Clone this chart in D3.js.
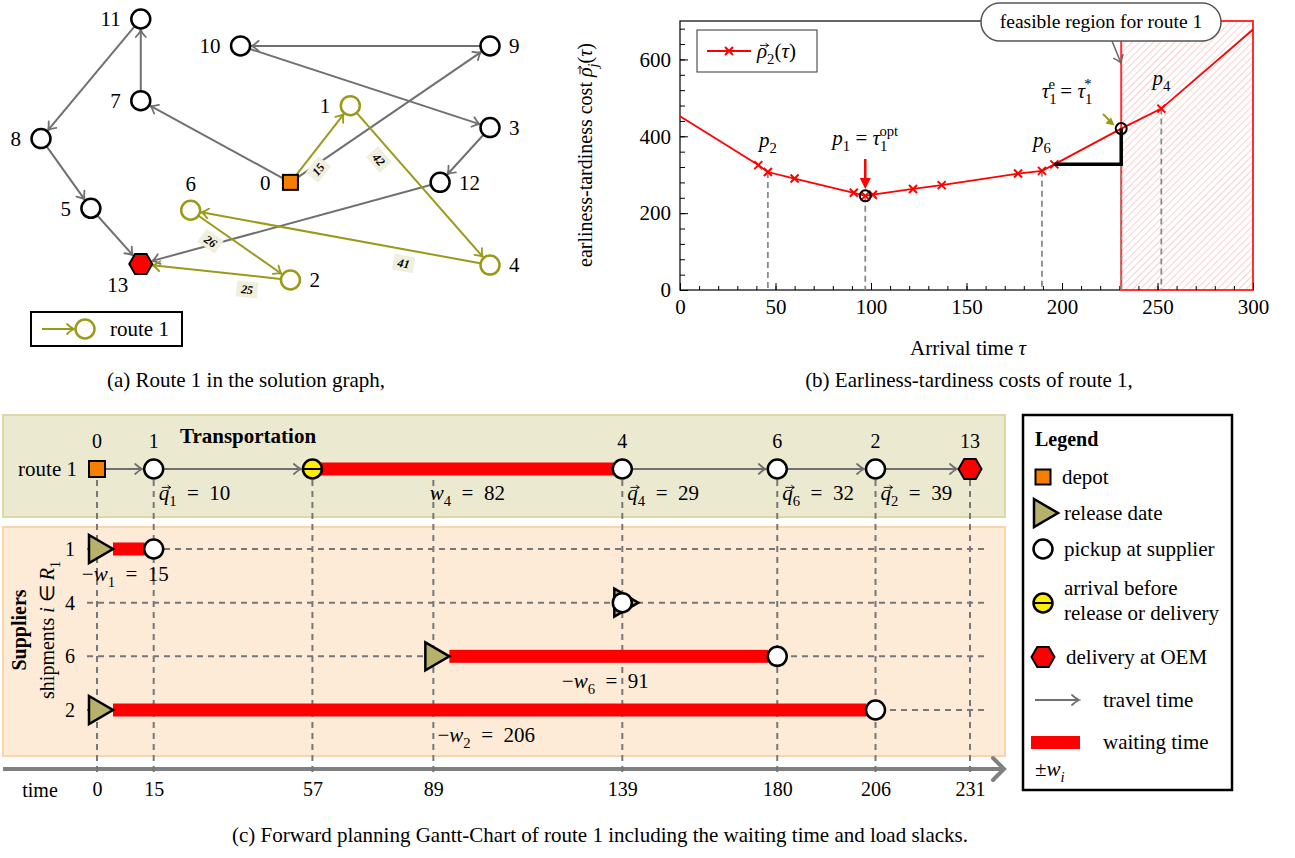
<!DOCTYPE html>
<html>
<head>
<meta charset="utf-8">
<script src="https://cdn.jsdelivr.net/npm/d3@7"></script>
<style>
  body { margin: 0; background: #fff; }
  svg text { font-family: "Liberation Serif", "Times New Roman", serif; white-space: pre; }
</style>
</head>
<body>
<svg id="fig" width="1295" height="858"></svg>
<script>
// ---------------- data: (a) solution graph ----------------
const nodeIds      = [0, 1, 2, 3, 4, 5, 6, 7, 8, 9, 10, 11, 12, 13];
const nodeGridX    = [5, 6.2, 5, 9, 9, 1, 3, 2, 0, 9, 4, 2, 8, 2];
const nodeGridY    = [3.28, 1.74, 5.24, 2.18, 4.94, 3.8, 3.84, 1.64, 2.4, 0.54, 0.54, 0, 3.28, 4.92];
const nodeLabelSide = ["l", "l", "r", "r", "r", "l", "t", "l", "l", "r", "l", "l", "r", "bl"];
const otherEdges   = [[9, 10], [10, 3], [0, 9], [0, 7], [7, 11], [11, 8], [8, 5], [5, 13], [3, 12], [12, 13]];
const route1Nodes  = [0, 1, 4, 6, 2, 13];
const route1Travel = [15, 42, 41, 26, 25];
const travelLabelSide = [1, 1, -1, 1, -1];

// ---------------- data: (b) earliness-tardiness cost ----------------
const tauPts   = [0, 41, 46, 60, 91, 97, 101, 122, 137, 177, 189.5, 196, 231, 252, 300];
const costPts  = [452, 325, 307, 290, 253, 245, 248, 263, 273, 303, 310, 327, 420, 472, 678];
const hasCross = [0, 1, 1, 1, 1, 1, 1, 1, 1, 1, 1, 1, 0, 1, 0];
const breakTau   = [46, 97, 189.5, 231, 252];
const optTau = 97, earliestTau = 231, feasibleEnd = 300;
const xTicksB = [0, 50, 100, 150, 200, 250, 300];
const yTicksB = [0, 200, 400, 600];

// ---------------- data: (c) Gantt chart ----------------
const tickTimes    = [0, 15, 57, 89, 139, 180, 206, 231];
const routeStops   = ["0", "1", "4", "6", "2", "13"];
const arrivalTimes = [0, 15, 57, 180, 206, 231];
const serviceTimes = [0, 15, 139, 180, 206, 231];
const loadSlackStops = ["1", "4", "6", "2"];
const loadSlackVals  = [10, 29, 32, 39];
const shipments    = [1, 4, 6, 2];
const releaseTimes = [0, 139, 89, 0];
const pickupTimes  = [15, 139, 180, 206];

// ---------------- colours / type ----------------
const OLIVE = "#9a9a1a", GREY = "#707070", RED = "#ff0000", ORANGE = "#f77f00",
      KHAKI = "#b7b16b", YELLOW = "#ffee00";
const FS = 21;

const svg = d3.select("#fig");
const defs = svg.append("defs");

function arrowMarker(id, color, w) {
  defs.append("marker").attr("id", id)
    .attr("viewBox", "-9 -6 11 12").attr("refX", 0).attr("refY", 0)
    .attr("markerWidth", 11).attr("markerHeight", 12)
    .attr("markerUnits", "userSpaceOnUse").attr("orient", "auto")
    .append("path").attr("d", "M-7,-5 Q-3,-1.2 0,0 Q-3,1.2 -7,5")
    .attr("fill", "none").attr("stroke", color).attr("stroke-width", w || 1.8)
    .attr("stroke-linecap", "round");
}
arrowMarker("arrGrey", GREY);
arrowMarker("arrOlive", OLIVE);
arrowMarker("arrCall", "#666", 1.5);

const hatch = defs.append("pattern").attr("id", "hatch")
  .attr("patternUnits", "userSpaceOnUse").attr("width", 5).attr("height", 5)
  .attr("patternTransform", "rotate(45)");
hatch.append("rect").attr("width", 5).attr("height", 5).attr("fill", "#fff");
hatch.append("line").attr("x1", 0).attr("y1", 0).attr("x2", 0).attr("y2", 5)
  .attr("stroke", "#f6b0b0").attr("stroke-width", 1.2);

// text with italic / sub / sup pieces and vector arrows
function vecArrow(g, x0, x1, y) {
  g.append("path").attr("d", `M${x0},${y}H${x1}M${x1 - 3},${y - 2.2}L${x1},${y}L${x1 - 3},${y + 2.2}`)
    .attr("fill", "none").attr("stroke", "#000").attr("stroke-width", 0.9);
}
function mathText(g, x, y, parts, o = {}) {
  const fs = o.size || FS;
  const t = g.append("text").attr("x", x).attr("y", y).attr("font-size", fs)
    .attr("text-anchor", o.anchor || "start").attr("fill", o.fill || "#000");
  let shift = 0, idx = 0;
  const vecs = [];
  parts.forEach(p => {
    if (typeof p === "string") p = { t: p };
    const target = p.sub ? fs * 0.28 : p.sup ? -fs * 0.42 : 0;
    const ts = t.append("tspan").text(p.t).attr("dy", target - shift);
    shift = target;
    if (p.sub || p.sup) ts.attr("font-size", fs * 0.7);
    if (p.i) ts.attr("font-style", "italic");
    if (p.dx) ts.attr("dx", p.dx);
    if (p.vec) vecs.push({ k: idx, base: y + target });
    idx += p.t.length;
  });
  vecs.forEach(v => {
    const e = t.node().getExtentOfChar(v.k);
    vecArrow(g, e.x + e.width * 0.3, e.x + e.width + 1.5, v.base - fs * 0.6);
  });
  return t;
}
function plainText(g, x, y, str, o = {}) {
  const t = g.append("text").attr("x", x).attr("y", y).attr("font-size", o.size || FS)
    .attr("text-anchor", o.anchor || "start").text(str);
  if (o.bold) t.attr("font-weight", "bold");
  return t;
}

// node symbols
function circleNode(g, x, y, stroke) {
  g.append("circle").attr("cx", x).attr("cy", y).attr("r", 9.5)
    .attr("fill", "#fff").attr("stroke", stroke || "#000").attr("stroke-width", 2.5);
}
function squareNode(g, x, y, s) {
  g.append("rect").attr("x", x - s / 2).attr("y", y - s / 2).attr("width", s).attr("height", s)
    .attr("fill", ORANGE).attr("stroke", "#000").attr("stroke-width", 2);
}
function hexNode(g, x, y, r) {
  const pts = d3.range(6).map(k => [x + r * Math.cos(k * Math.PI / 3), y + r * Math.sin(k * Math.PI / 3)]);
  g.append("polygon").attr("points", pts.map(p => p.join(",")).join(" "))
    .attr("fill", RED).attr("stroke", "#000").attr("stroke-width", 2);
}
function triNode(g, x, y) {
  g.append("polygon").attr("points", `${x - 8},${y - 14} ${x + 16},${y} ${x - 8},${y + 14}`)
    .attr("fill", KHAKI).attr("stroke", "#000").attr("stroke-width", 2.5);
}
function yellowNode(g, x, y) {
  g.append("circle").attr("cx", x).attr("cy", y).attr("r", 9.5)
    .attr("fill", YELLOW).attr("stroke", "#000").attr("stroke-width", 2.5);
  g.append("line").attr("x1", x - 9.5).attr("x2", x + 9.5).attr("y1", y).attr("y2", y)
    .attr("stroke", "#000").attr("stroke-width", 2);
}

// ======================= (a) =======================
const gA = svg.append("g");
const xG = d3.scaleLinear().domain([0, 9]).range([41, 490]);
const yG = d3.scaleLinear().domain([0, 5.24]).range([19, 280]);
const nx = id => xG(nodeGridX[nodeIds.indexOf(id)]);
const ny = id => yG(nodeGridY[nodeIds.indexOf(id)]);
const nodeRad = id => id === 0 ? 9 : id === 13 ? 12 : 11;
const routeSet = new Set(route1Nodes.slice(1, -1));

function edgeGeom(a, b) {
  const x1 = nx(a), y1 = ny(a), x2 = nx(b), y2 = ny(b);
  const L = Math.hypot(x2 - x1, y2 - y1);
  return { x1, y1, x2, y2, L, ux: (x2 - x1) / L, uy: (y2 - y1) / L };
}
function drawEdge(a, b, color, marker) {
  const e = edgeGeom(a, b), s = nodeRad(a) - 1, t = nodeRad(b);
  gA.append("line")
    .attr("x1", e.x1 + e.ux * s).attr("y1", e.y1 + e.uy * s)
    .attr("x2", e.x2 - e.ux * t).attr("y2", e.y2 - e.uy * t)
    .attr("stroke", color).attr("stroke-width", 2).attr("marker-end", `url(#${marker})`);
}
otherEdges.forEach(([a, b]) => drawEdge(a, b, GREY, "arrGrey"));
d3.pairs(route1Nodes).forEach(([a, b]) => drawEdge(a, b, OLIVE, "arrOlive"));

// travel-time tags on route edges
d3.pairs(route1Nodes).forEach(([a, b], i) => {
  const e = edgeGeom(a, b);
  const px = e.x1 + e.ux * e.L * 0.28 + (-e.uy) * 14 * travelLabelSide[i];
  const py = e.y1 + e.uy * e.L * 0.28 + (e.ux) * 14 * travelLabelSide[i];
  let ang = Math.atan2(e.uy, e.ux) * 180 / Math.PI;
  if (ang > 90) ang -= 180;
  if (ang < -90) ang += 180;
  const tg = gA.append("g").attr("transform", `translate(${px},${py}) rotate(${ang})`);
  tg.append("rect").attr("x", -10.5).attr("y", -8).attr("width", 21).attr("height", 16).attr("fill", "#efefde");
  tg.append("text").attr("text-anchor", "middle").attr("dy", "0.35em")
    .attr("font-size", 12).attr("font-weight", "bold").attr("font-style", "italic")
    .text(route1Travel[i]);
});

// nodes and their labels
nodeIds.forEach((id, k) => {
  const x = nx(id), y = ny(id);
  if (id === 0) squareNode(gA, x, y, 15);
  else if (id === 13) hexNode(gA, x, y, 11.5);
  else circleNode(gA, x, y, routeSet.has(id) ? OLIVE : "#000");
  const side = nodeLabelSide[k];
  const lab = gA.append("text").attr("font-size", FS).attr("dy", "0.35em").text(id);
  if (side === "l") lab.attr("x", x - 20).attr("y", y).attr("text-anchor", "end");
  else if (side === "r") lab.attr("x", x + 19).attr("y", y).attr("text-anchor", "start");
  else if (side === "t") lab.attr("x", x).attr("y", y - 27).attr("text-anchor", "middle");
  else lab.attr("x", x - 23).attr("y", y + 21).attr("text-anchor", "middle");
});

// legend of (a)
gA.append("rect").attr("x", 31).attr("y", 312).attr("width", 151).attr("height", 34)
  .attr("fill", "#fff").attr("stroke", "#000").attr("stroke-width", 2);
gA.append("line").attr("x1", 42).attr("x2", 74).attr("y1", 329).attr("y2", 329)
  .attr("stroke", OLIVE).attr("stroke-width", 2).attr("marker-end", "url(#arrOlive)");
circleNode(gA, 85, 329, OLIVE);
plainText(gA, 110, 336, "route 1");

plainText(gA, 246, 387, "(a) Route 1 in the solution graph,", { anchor: "middle" });

// ======================= (b) =======================
const gB = svg.append("g");
const xB = d3.scaleLinear().domain([0, 300]).range([680, 1253]);
const yB = d3.scaleLinear().domain([0, 700]).range([290, 21]);

// frame
gB.append("rect").attr("x", xB(0)).attr("y", yB(700)).attr("width", xB(300) - xB(0)).attr("height", yB(0) - yB(700))
  .attr("fill", "none").attr("stroke", "#000").attr("stroke-width", 1.2);

// feasible region
gB.append("rect").attr("x", xB(earliestTau)).attr("y", yB(700))
  .attr("width", xB(feasibleEnd) - xB(earliestTau)).attr("height", yB(0) - yB(700))
  .attr("fill", "url(#hatch)").attr("stroke", "#ff3030").attr("stroke-width", 2);

// axes with inward ticks
function styleAxis(g) { g.select(".domain").remove(); g.attr("font-size", FS); }
gB.append("g").attr("transform", `translate(0,${yB(0)})`)
  .call(d3.axisBottom(xB).tickValues(d3.range(0, 301, 10)).tickSize(-4).tickFormat(""))
  .call(styleAxis);
gB.append("g").attr("transform", `translate(0,${yB(0)})`)
  .call(d3.axisBottom(xB).tickValues(xTicksB).tickSize(-7).tickPadding(9))
  .call(styleAxis);
gB.append("g").attr("transform", `translate(${xB(0)},0)`)
  .call(d3.axisLeft(yB).tickValues(d3.range(0, 700, 40)).tickSize(-5).tickFormat(""))
  .call(styleAxis);
gB.append("g").attr("transform", `translate(${xB(0)},0)`)
  .call(d3.axisLeft(yB).tickValues(yTicksB).tickSize(-8).tickPadding(9))
  .call(styleAxis);

// dashed breakpoint lines
const costAt = t => costPts[tauPts.indexOf(t)];
const stepCost = costAt(196);
breakTau.forEach(t => {
  const top = t === earliestTau ? stepCost : costAt(t);
  gB.append("line").attr("x1", xB(t)).attr("x2", xB(t)).attr("y1", yB(top)).attr("y2", yB(0))
    .attr("stroke", "#8a8a8a").attr("stroke-width", 1.8).attr("stroke-dasharray", "6,4");
});

// cost curve
gB.append("path").datum(tauPts.map((t, i) => [t, costPts[i]]))
  .attr("d", d3.line().x(d => xB(d[0])).y(d => yB(d[1])))
  .attr("fill", "none").attr("stroke", RED).attr("stroke-width", 1.8);
const cross = "M-4,-4L4,4M-4,4L4,-4";
tauPts.forEach((t, i) => {
  if (!hasCross[i]) return;
  gB.append("path").attr("d", cross).attr("transform", `translate(${xB(t)},${yB(costPts[i])})`)
    .attr("stroke", RED).attr("stroke-width", 2).attr("fill", "none");
});

// waiting step to the earliest feasible arrival
gB.append("path")
  .attr("d", `M${xB(196)},${yB(stepCost)}H${xB(earliestTau)}V${yB(costAt(earliestTau))}`)
  .attr("fill", "none").attr("stroke", "#000").attr("stroke-width", 3.5);

[optTau, earliestTau].forEach(t => {
  gB.append("circle").attr("cx", xB(t)).attr("cy", yB(costAt(t))).attr("r", 5.5)
    .attr("fill", "none").attr("stroke", "#000").attr("stroke-width", 2);
});

// breakpoint labels
mathText(gB, xB(46), 147, [{ t: "p", i: true }, { t: "2", sub: true }], { anchor: "middle" });
mathText(gB, xB(97), 145, [{ t: "p", i: true }, { t: "1", sub: true }, " = ", { t: "τ", i: true },
  { t: "1", sub: true }, { t: "opt", sup: true, dx: -8 }], { anchor: "middle" });
mathText(gB, xB(189.5), 147, [{ t: "p", i: true }, { t: "6", sub: true }], { anchor: "middle" });
mathText(gB, xB(252), 85, [{ t: "p", i: true }, { t: "4", sub: true }], { anchor: "middle" });
mathText(gB, 1067, 98, [{ t: "τ", i: true }, { t: "1", sub: true }, { t: "e", sup: true, dx: -8 }, " = ",
  { t: "τ", i: true }, { t: "1", sub: true }, { t: "*", sup: true, dx: -8 }], { anchor: "middle" });

// red arrow to the optimum
const ox = xB(optTau);
gB.append("line").attr("x1", ox).attr("x2", ox).attr("y1", 159).attr("y2", 179)
  .attr("stroke", RED).attr("stroke-width", 2.5);
gB.append("path").attr("d", `M${ox - 5.5},178L${ox},189L${ox + 5.5},178Z`).attr("fill", RED);

// small olive arrow to the earliest feasible arrival
gB.append("path").attr("d", "M1103,114L1109,120").attr("stroke", OLIVE).attr("stroke-width", 2);
gB.append("path").attr("d", "M1114.5,125.5L1105.5,123.5L1108,120.5L1111,117.5Z").attr("fill", OLIVE);

// callout
gB.append("line").attr("x1", 1112).attr("y1", 41).attr("x2", 1121).attr("y2", 63)
  .attr("stroke", "#666").attr("stroke-width", 1.5).attr("marker-end", "url(#arrCall)");
gB.append("rect").attr("x", 981).attr("y", 3).attr("width", 240).attr("height", 38).attr("rx", 19)
  .attr("fill", "#fff").attr("stroke", "#555").attr("stroke-width", 1.5);
plainText(gB, 1101, 28, "feasible region for route 1", { anchor: "middle", size: 19.5 });

// legend of (b)
gB.append("rect").attr("x", 697).attr("y", 30).attr("width", 120).attr("height", 42)
  .attr("fill", "#fff").attr("stroke", "#333").attr("stroke-width", 1);
gB.append("line").attr("x1", 707).attr("x2", 751).attr("y1", 51).attr("y2", 51)
  .attr("stroke", RED).attr("stroke-width", 1.8);
gB.append("path").attr("d", cross).attr("transform", "translate(729,51)")
  .attr("stroke", RED).attr("stroke-width", 2).attr("fill", "none");
mathText(gB, 757, 58, [{ t: "ρ", i: true, vec: true }, { t: "2", sub: true }, "(", { t: "τ", i: true }, ")"]);

// axis titles
const yLab = gB.append("g").attr("transform", "translate(592,155) rotate(-90)");
mathText(yLab, 0, 0, ["earliness-tardiness cost ", { t: "ρ", i: true, vec: true }, { t: "j", i: true, sub: true },
  "(", { t: "τ", i: true }, ")"], { anchor: "middle", size: 20 });
mathText(gB, 968, 355, ["Arrival time ", { t: "τ", i: true }], { anchor: "middle" });
plainText(gB, 969, 387, "(b) Earliness-tardiness costs of route 1,", { anchor: "middle" });

// ======================= (c) =======================
const gC = svg.append("g");
const xT = d3.scaleLinear().domain([0, 231]).range([97, 970]);
const yRoute = 469;
const yShip = d3.scalePoint().domain(shipments).range([549, 710]);

// panels
gC.append("rect").attr("x", 3).attr("y", 415).attr("width", 1002).attr("height", 102)
  .attr("fill", "#ece9d1").attr("stroke", "#ddd8a8").attr("stroke-width", 2);
gC.append("rect").attr("x", 3).attr("y", 527).attr("width", 1002).attr("height", 229)
  .attr("fill", "#fdebd7").attr("stroke", "#fcd3ab").attr("stroke-width", 2);

// time axis
gC.append("line").attr("x1", 3).attr("x2", 1002).attr("y1", 769).attr("y2", 769)
  .attr("stroke", "#808080").attr("stroke-width", 4);
gC.append("path").attr("d", "M993,758L1004,769L993,780").attr("fill", "none")
  .attr("stroke", "#808080").attr("stroke-width", 4).attr("stroke-linecap", "round");
gC.append("g").attr("transform", "translate(0,782)")
  .call(d3.axisBottom(xT).tickValues(tickTimes).tickSize(0).tickPadding(0))
  .call(g => { g.select(".domain").remove(); g.attr("font-size", FS - 1); });
plainText(gC, 40, 797, "time", { anchor: "middle", size: FS - 1 });

// dashed guides
tickTimes.forEach(t => {
  gC.append("line").attr("x1", xT(t)).attr("x2", xT(t)).attr("y1", 480).attr("y2", 776)
    .attr("stroke", "#777").attr("stroke-width", 2).attr("stroke-dasharray", "6,5");
});
shipments.forEach(s => {
  gC.append("line").attr("x1", 87).attr("x2", 987).attr("y1", yShip(s)).attr("y2", yShip(s))
    .attr("stroke", "#777").attr("stroke-width", 2).attr("stroke-dasharray", "6,5");
});

// route row
plainText(gC, 77, yRoute + 7, "route 1", { anchor: "end" });
plainText(gC, 248, 443, "Transportation", { anchor: "middle", bold: true });
const halfW = i => i === 0 ? 9 : i === routeStops.length - 1 ? 12 : 10.5;
for (let i = 0; i < routeStops.length - 1; i++) {
  const x1 = xT(serviceTimes[i]) + halfW(i), x2 = xT(arrivalTimes[i + 1]) - halfW(i + 1) - 1;
  gC.append("line").attr("x1", x1).attr("x2", x2).attr("y1", yRoute).attr("y2", yRoute)
    .attr("stroke", GREY).attr("stroke-width", 2).attr("marker-end", "url(#arrGrey)");
}
routeStops.forEach((s, i) => {
  if (arrivalTimes[i] < serviceTimes[i]) {
    const w = serviceTimes[i] - arrivalTimes[i];
    gC.append("rect").attr("x", xT(arrivalTimes[i])).attr("y", yRoute - 6.5)
      .attr("width", xT(serviceTimes[i]) - xT(arrivalTimes[i])).attr("height", 13).attr("fill", RED);
    yellowNode(gC, xT(arrivalTimes[i]), yRoute);
    mathText(gC, xT((arrivalTimes[i] + serviceTimes[i]) / 2), 500,
      [{ t: "w", i: true }, { t: s, sub: true }, "  =  " + w], { anchor: "middle" });
  }
  const x = xT(serviceTimes[i]);
  if (i === 0) squareNode(gC, x, yRoute, 16);
  else if (i === routeStops.length - 1) hexNode(gC, x, yRoute, 11.5);
  else circleNode(gC, x, yRoute);
  plainText(gC, x, 448, s, { anchor: "middle", size: FS - 1 });
});
loadSlackStops.forEach((s, k) => {
  const t = serviceTimes[routeStops.indexOf(s)];
  mathText(gC, xT(t) + 5, 500, [{ t: "q", i: true, vec: true }, { t: s, sub: true }, "  =  " + loadSlackVals[k]]);
});

// supplier rows
shipments.forEach((s, k) => {
  const y = yShip(s), r = releaseTimes[k], p = pickupTimes[k];
  plainText(gC, 70, y + 7, String(s), { anchor: "middle", size: FS - 1 });
  if (p > r) {
    gC.append("rect").attr("x", xT(r) + 16).attr("y", y - 6.5)
      .attr("width", xT(p) - xT(r) - 16 - 9).attr("height", 13).attr("fill", RED);
    mathText(gC, xT((r + p) / 2), y + 32,
      ["−", { t: "w", i: true }, { t: String(s), sub: true }, "  =  " + (p - r)], { anchor: "middle" });
  }
  triNode(gC, xT(r), y);
  circleNode(gC, xT(p), y);
});
const supLab = gC.append("g").attr("transform", "translate(26,630) rotate(-90)");
plainText(supLab, 0, 0, "Suppliers", { anchor: "middle", bold: true, size: 20 });
const shipLab = gC.append("g").attr("transform", "translate(54,630) rotate(-90)");
mathText(shipLab, 0, 0, ["shipments ", { t: "i", i: true }, " ∈ ", { t: "R", i: true }, { t: "1", sub: true }],
  { anchor: "middle", size: 20 });

// legend of (c)
const gL = svg.append("g");
gL.append("rect").attr("x", 1023).attr("y", 415).attr("width", 209).attr("height", 375)
  .attr("fill", "#fff").attr("stroke", "#000").attr("stroke-width", 2.5);
plainText(gL, 1035, 446, "Legend", { bold: true, size: 20 });
squareNode(gL, 1043, 477, 15);
plainText(gL, 1062, 484, "depot");
triNode(gL, 1042, 513);
plainText(gL, 1064, 520, "release date");
circleNode(gL, 1043, 549);
plainText(gL, 1064, 556, "pickup at supplier");
yellowNode(gL, 1043, 603);
plainText(gL, 1064, 595, "arrival before");
plainText(gL, 1064, 620, "release or delivery");
hexNode(gL, 1043, 657, 11.5);
plainText(gL, 1066, 664, "delivery at OEM");
gL.append("line").attr("x1", 1035).attr("x2", 1079).attr("y1", 700).attr("y2", 700)
  .attr("stroke", GREY).attr("stroke-width", 2).attr("marker-end", "url(#arrGrey)");
plainText(gL, 1103, 707, "travel time");
gL.append("rect").attr("x", 1031).attr("y", 736).attr("width", 49).attr("height", 13).attr("fill", RED);
plainText(gL, 1103, 749, "waiting time");
mathText(gL, 1035, 776, ["±", { t: "w", i: true }, { t: "i", i: true, sub: true }]);

// caption of (c)
plainText(svg, 600, 842, "(c) Forward planning Gantt-Chart of route 1 including the waiting time and load slacks.",
  { anchor: "middle" });
</script>
</body>
</html>
